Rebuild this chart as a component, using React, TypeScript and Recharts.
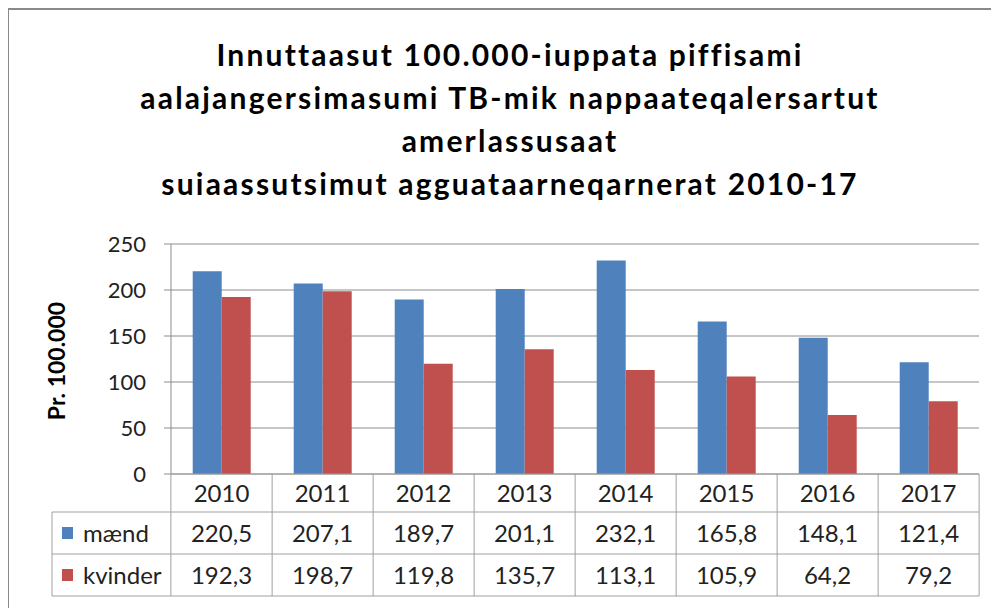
import React from 'react';
import { BarChart, Bar, XAxis, YAxis, CartesianGrid } from 'recharts';

const years = ['2010', '2011', '2012', '2013', '2014', '2015', '2016', '2017'];
const maend = [220.5, 207.1, 189.7, 201.1, 232.1, 165.8, 148.1, 121.4];
const kvinder = [192.3, 198.7, 119.8, 135.7, 113.1, 105.9, 64.2, 79.2];
const yTicks = [0, 50, 100, 150, 200, 250];
const titleLines = [
  'Innuttaasut 100.000-iuppata piffisami',
  'aalajangersimasumi TB-mik nappaateqalersartut',
  'amerlassusaat',
  'suiaassutsimut agguataarneqarnerat 2010-17',
];

const BLUE = '#4F81BD';
const RED = '#C0504D';
const FONT = 'Lato, "Open Sans", sans-serif';

const data = years.map((y, i) => ({ year: y, maend: maend[i], kvinder: kvinder[i] }));

// chart layout (relative to wrapper)
const W = 991;
const H = 600;
const PLOT_LEFT = 162;
const PLOT_RIGHT = 972;
const COL_W = (PLOT_RIGHT - PLOT_LEFT) / years.length;
const ROW1 = 38; // year row height
const ROW2 = 42;
const ROW3 = 42;
const LEGEND_LEFT = 44;
const LINE = '#a0a0a0';
const TFS = 24;

const fmt = (v: number) => v.toFixed(1).replace('.', ',');

// x-axis tick draws one column of the data table
function TableTick(props: any) {
  const { x, y, payload, index } = props;
  const i = index ?? payload.index;
  const l = x - COL_W / 2;
  const r = x + COL_W / 2;
  const y1 = y + ROW1;
  const y2 = y1 + ROW2;
  const y3 = y2 + ROW3;
  return (
    <g>
      <line x1={l} x2={r} y1={y} y2={y} stroke={LINE} />
      <line x1={l} x2={r} y1={y1} y2={y1} stroke={LINE} />
      <line x1={l} x2={r} y1={y2} y2={y2} stroke={LINE} />
      <line x1={l} x2={r} y1={y3} y2={y3} stroke={LINE} />
      <line x1={r} x2={r} y1={y} y2={y3} stroke={LINE} />
      <text x={x} y={y + ROW1 / 2} dy="0.36em" textAnchor="middle" fontSize={TFS} fontFamily={FONT} fill="#222">
        {payload.value}
      </text>
      <text x={x} y={y1 + ROW2 / 2} dy="0.36em" textAnchor="middle" fontSize={TFS} fontFamily={FONT} fill="#222">
        {fmt(maend[i])}
      </text>
      <text x={x} y={y2 + ROW3 / 2} dy="0.36em" textAnchor="middle" fontSize={TFS} fontFamily={FONT} fill="#222">
        {fmt(kvinder[i])}
      </text>
      {i === 0 && (
        <g>
          <line x1={l} x2={l} y1={y} y2={y3} stroke={LINE} />
          <line x1={LEGEND_LEFT} x2={l} y1={y1} y2={y1} stroke={LINE} />
          <line x1={LEGEND_LEFT} x2={l} y1={y2} y2={y2} stroke={LINE} />
          <line x1={LEGEND_LEFT} x2={l} y1={y3} y2={y3} stroke={LINE} />
          <line x1={LEGEND_LEFT} x2={LEGEND_LEFT} y1={y1} y2={y3} stroke={LINE} />
          <rect x={LEGEND_LEFT + 10} y={y1 + ROW2 / 2 - 6} width={11} height={12} fill={BLUE} />
          <text x={LEGEND_LEFT + 31} y={y1 + ROW2 / 2} dy="0.36em" fontSize={TFS} fontFamily={FONT} fill="#222">
            mænd
          </text>
          <rect x={LEGEND_LEFT + 10} y={y2 + ROW3 / 2 - 6} width={11} height={12} fill={RED} />
          <text x={LEGEND_LEFT + 31} y={y2 + ROW3 / 2} dy="0.36em" fontSize={TFS} fontFamily={FONT} fill="#222">
            kvinder
          </text>
        </g>
      )}
    </g>
  );
}

export default function App() {
  return (
    <div
      style={{
        position: 'relative',
        width: W,
        height: H,
        marginLeft: -1,
        borderLeft: '2px solid #8a8a8a',
        borderTop: '2px solid #8a8a8a',
        boxSizing: 'border-box',
        background: '#fff',
      }}
    >
      <div
        style={{
          position: 'absolute',
          left: 1,
          top: 23,
          width: 1000,
          textAlign: 'center',
          fontFamily: FONT,
          fontWeight: 700,
          fontSize: 30,
          letterSpacing: 2.2,
          lineHeight: '43px',
          color: '#000',
        }}
      >
        {titleLines.map((t) => (
          <div key={t}>{t}</div>
        ))}
      </div>
      <div
        style={{
          position: 'absolute',
          left: 47,
          top: 351,
          transform: 'translate(-50%, -50%) rotate(-90deg)',
          whiteSpace: 'nowrap',
          fontFamily: FONT,
          fontWeight: 700,
          fontSize: 23,
          color: '#000',
        }}
      >
        Pr. 100.000
      </div>
      <div style={{ position: 'absolute', left: -1, top: -2 }}>
        <BarChart
          width={W}
          height={H}
          data={data}
          margin={{ top: 236, right: W - PLOT_RIGHT + 1, bottom: 600 - 466 - 122, left: 0 }}
          barCategoryGap="21.5%"
          barGap={0}
        >
          <CartesianGrid vertical={false} stroke="#8c8c8c" />
          <YAxis
            domain={[0, 250]}
            ticks={yTicks}
            width={PLOT_LEFT + 1}
            tickSize={7}
            tickMargin={18}
            axisLine={{ stroke: '#8c8c8c' }}
            tickLine={{ stroke: '#8c8c8c' }}
            tick={{ fontSize: 22, fontFamily: FONT, fill: '#222' }}
          />
          <XAxis
            dataKey="year"
            height={122}
            axisLine={false}
            tickLine={false}
            tickSize={0}
            tickMargin={0}
            interval={0}
            tick={<TableTick />}
          />
          <Bar dataKey="maend" fill={BLUE} isAnimationActive={false} />
          <Bar dataKey="kvinder" fill={RED} isAnimationActive={false} />
        </BarChart>
      </div>
    </div>
  );
}
